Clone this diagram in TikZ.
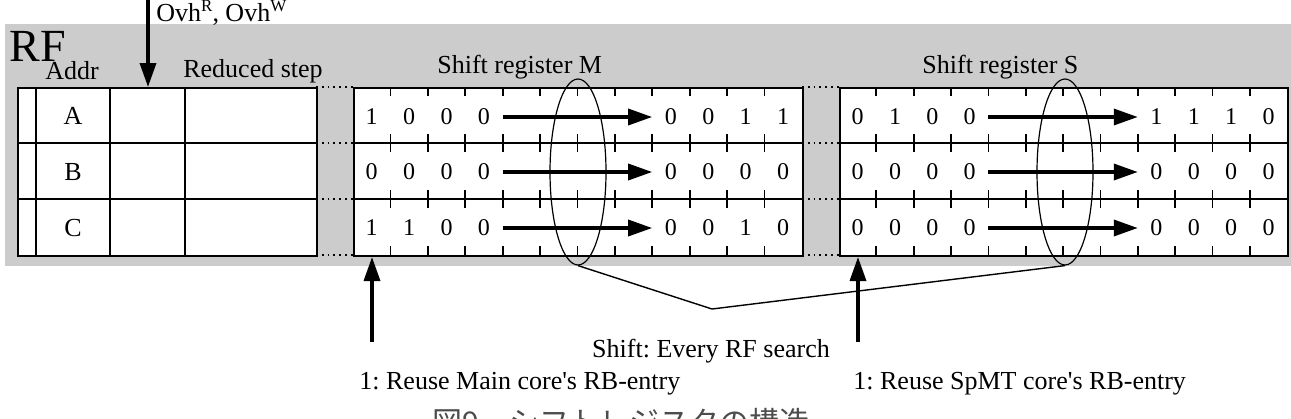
\documentclass[tikz,border=0pt]{standalone}
\usepackage{fontspec}
\setmainfont{Liberation Serif}[Ligatures=TeXOff]
\newfontfamily\cjk{Noto Sans CJK JP}
\usetikzlibrary{arrows.meta,shapes.geometric}
\definecolor{rfgray}{RGB}{204,204,204}
\frenchspacing
\begin{document}
\begin{tikzpicture}[x=0.5pt,y=-0.5pt,
  grid/.style={line width=0.9pt},
  tickline/.style={line width=0.9pt},
  txt/.style={font=\fontsize{13}{15}\selectfont, inner sep=0pt},
  digit/.style={font=\fontsize{12}{14}\selectfont, inner sep=0pt},
  bigarrow/.style={line width=1.7pt, -{Triangle[length=12pt,width=8pt]}},
  oval/.style={draw, ellipse, line width=0.6pt, minimum width=28pt, minimum height=93pt, inner sep=0pt},
  dots/.style={dotted, line width=0.9pt},
  boxnode/.style={draw, line width=0.9pt, fill=white, inner sep=0pt, anchor=north west}
]
\useasboundingbox (0,0) rectangle (1291,418);
% RF background
\fill[rfgray] (5,24) rectangle (1291,266);
\node[inner sep=0pt, anchor=west, font=\fontsize{23}{25}\selectfont] (rf) at (9,46) {RF};
% table
\node[boxnode, minimum width=149.5pt, minimum height=84pt] (tbl) at (17,87) {};
\foreach \x in {36,110,185} \draw[grid] (\x,87) -- (\x,255);
\foreach \y in {143,199} \draw[grid] (17,\y) -- (316,\y);
\node[txt] (ra) at (73,116) {A};
\node[txt] (rb) at (73,172) {B};
\node[txt] (rc) at (73,228) {C};
\node[txt] (addr) at (72,71) {Addr};
\node[txt] (red) at (253,71) {Reduced step};
% shift registers
\node[boxnode, minimum width=224.5pt, minimum height=84pt] (regM) at (353,87) {};
\node[boxnode, minimum width=224pt, minimum height=84pt] (regS) at (839,87) {};
\foreach \y in {143,199} {
  \draw[grid] (353,\y) -- (802,\y);
  \draw[grid] (839,\y) -- (1287,\y);
}
% dotted links in gaps
\foreach \y in {87,143,199,255} {
  \draw[dots] (316,\y) -- (353,\y);
  \draw[dots] (802,\y) -- (839,\y);
}
% ticks
\foreach \xo/\w in {353/37.4, 839/37.35} {
  \foreach \i in {1,...,11} {
    \foreach \yt/\yb in {87/143,143/199,199/255} {
      \draw[tickline] ({\xo+\i*\w},\yt) -- ++(0,9);
      \draw[tickline] ({\xo+\i*\w},\yb) -- ++(0,-9);
    }
  }
}
% shift arrows
\foreach \xo/\w in {353/37.4, 839/37.35} {
  \foreach \yc in {117,172,228} {
    \draw[bigarrow] ({\xo+4*\w},\yc) -- ({\xo+8*\w},\yc);
  }
}
% digits
\foreach \row/\yc/\digs in {
  1/117/{1,0,0,0,0,0,1,1},
  2/172/{0,0,0,0,0,0,0,0},
  3/228/{1,1,0,0,0,0,1,0}} {
  \foreach \d [count=\k] in \digs {
    \pgfmathsetmacro{\cell}{\k<5 ? \k : \k+4}
    \node[digit] (m\row-\k) at ({353+(\cell-0.5)*37.4},\yc) {\d};
  }
}
\foreach \row/\yc/\digs in {
  1/117/{0,1,0,0,1,1,1,0},
  2/172/{0,0,0,0,0,0,0,0},
  3/228/{0,0,0,0,0,0,0,0}} {
  \foreach \d [count=\k] in \digs {
    \pgfmathsetmacro{\cell}{\k<5 ? \k : \k+4}
    \node[digit] (s\row-\k) at ({839+(\cell-0.5)*37.35},\yc) {\d};
  }
}
\node[txt, anchor=west] (labM) at (437,67) {Shift register M};
\node[txt, anchor=west] (labS) at (922,67) {Shift register S};
% ellipses
\node[oval] (ellM) at (578,172) {};
\node[oval] (ellS) at (1065,172) {};
\coordinate (vtx) at (712,309);
\draw[line width=0.7pt] (ellM.south) -- (vtx) -- (ellS.south);
\node[txt] (shift) at (711,351) {Shift: Every RF search};
% top arrow
\coordinate (ovsrc) at (148,0);
\draw[bigarrow] (ovsrc) -- (148,87);
\node[txt, anchor=west] (ovh) at (156,13) {Ovh\raisebox{0.9ex}{\fontsize{8.5}{9}\selectfont R}, Ovh\raisebox{0.9ex}{\fontsize{8.5}{9}\selectfont W}};
% bottom arrows
\coordinate (srcM) at (372,342);
\coordinate (srcS) at (858,342);
\draw[bigarrow] (srcM) -- (372,257);
\draw[bigarrow] (srcS) -- (858,257);
\node[txt, anchor=west] (reuseM) at (359,384) {1: Reuse Main core's RB-entry};
\node[txt, anchor=west] (reuseS) at (853,384) {1: Reuse SpMT core's RB-entry};
% caption (cut off at the bottom)
\begin{scope}
\clip (0,0) rectangle (1291,418);
\node[inner sep=0pt, anchor=west, font=\cjk\fontsize{15}{17}\selectfont, text=black!70] (cap) at (432,422) {図9　シフトレジスタの構造};
\end{scope}
\end{tikzpicture}
\end{document}
